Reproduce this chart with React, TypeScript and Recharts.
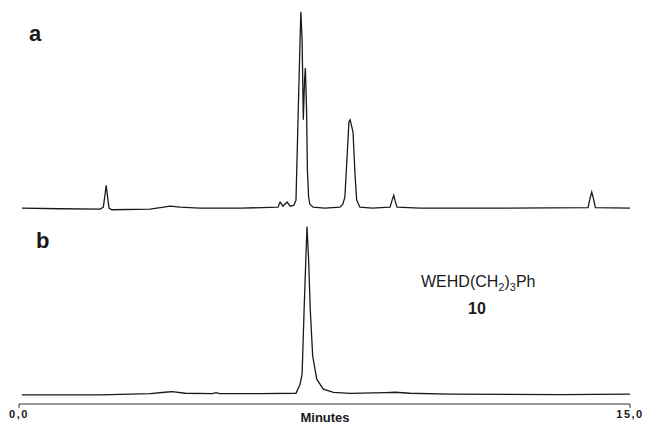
import React from "react";
import { LineChart, Line, XAxis, YAxis } from "recharts";

// trace a: retention time (min) and detector response (a.u.)
const traceATime = [
    0.07, 1.01, 1.99, 2.07, 2.11, 2.14, 2.17, 2.21, 2.28, 3.22, 3.71, 3.95,
    4.44, 5.43, 6.36, 6.41, 6.48, 6.58, 6.66, 6.75, 6.8, 6.85, 6.9, 6.92, 6.95,
    6.98, 7.01, 7.03, 7.06, 7.08, 7.11, 7.14, 7.22, 7.51, 7.88, 7.95, 8.0, 8.05,
    8.1, 8.13, 8.16, 8.2, 8.25, 8.29, 8.37, 8.67, 9.11, 9.16, 9.2, 9.23, 9.28,
    9.85, 11.81, 13.97, 14.02, 14.06, 14.1, 14.15, 15.0,
];
const traceASignal = [
    0, -0.3, -0.5, 0.5, 6.6, 11.7, 6.6, 0, -0.8, -0.5, 1.0, 0.5, 0, 0, 0.5,
    3.1, 1.0, 3.1, 1.0, 1.5, 4.1, 45, 85.7, 100, 85.7, 45, 65, 71.4, 50, 19.4,
    5.6, 2.0, 0.5, 0, 0.5, 2, 5.6, 24.5, 44, 45, 42.3, 38.8, 16.8, 4.1, 0.5, 0,
    0.5, 4.1, 6.6, 4.1, 0.5, 0, 0, 0.3, 5.1, 8.2, 5.1, 0.3, 0,
];

// trace b: compound 10
const traceBTime = [
    0.07, 1.99, 3.22, 3.58, 3.76, 4.08, 4.74, 4.84, 4.93, 5.92, 6.8, 6.9, 6.95,
    7.0, 7.05, 7.07, 7.11, 7.15, 7.21, 7.31, 7.47, 7.72, 8.13, 8.99, 9.23, 9.6,
    10.58, 13.28, 15.0,
];
const traceBSignal = [
    -0.3, -0.3, 0.3, 1.0, 1.3, 0.5, 0.3, 0.8, 0.3, 0.3, 0.5, 5.1, 10.2, 43.4,
    74, 85.7, 68.9, 43.4, 19.5, 7.7, 2.6, 0.9, 0.4, 0.8, 1.0, 0.5, 0, -0.2, 0,
];

const xTicks = [0, 15];
const xTickLabels = ["0,0", "15,0"];

const dataA = traceATime.map((t, i) => ({ t, v: traceASignal[i] }));
const dataB = traceBTime.map((t, i) => ({ t, v: traceBSignal[i] }));

const font = "'Liberation Sans', Arial, sans-serif";
const ink = "#1a1a1a";

export default function App() {
    return (
        <div
            style={{
                position: "absolute",
                left: 0,
                top: 0,
                width: 645,
                height: 427,
                background: "#fff",
                fontFamily: font,
            }}
        >
            <div style={{ position: "absolute", left: 0, top: 0 }}>
                <LineChart
                    width={645}
                    height={220}
                    data={dataA}
                    margin={{ top: 2, right: 15, bottom: 2, left: 19 }}
                >
                    <XAxis type="number" dataKey="t" domain={[0, 15]} hide />
                    <YAxis type="number" domain={[-5, 105]} hide />
                    <Line
                        type="linear"
                        dataKey="v"
                        stroke={ink}
                        strokeWidth={1.3}
                        dot={false}
                        isAnimationActive={false}
                    />
                </LineChart>
            </div>
            <div style={{ position: "absolute", left: 0, top: 216 }}>
                <LineChart
                    width={645}
                    height={211}
                    data={dataB}
                    margin={{ top: 2, right: 15, bottom: 0, left: 19 }}
                >
                    <XAxis
                        type="number"
                        dataKey="t"
                        domain={[0, 15]}
                        ticks={xTicks}
                        tickFormatter={(v) => xTickLabels[xTicks.indexOf(v)]}
                        height={23}
                        tickSize={4}
                        stroke="#333"
                        tick={{
                            fill: ink,
                            fontSize: 11,
                            fontWeight: "bold",
                            fontFamily: font,
                            letterSpacing: 1.5,
                        }}
                    />
                    <YAxis type="number" domain={[-5, 90]} hide />
                    <Line
                        type="linear"
                        dataKey="v"
                        stroke={ink}
                        strokeWidth={1.3}
                        dot={false}
                        isAnimationActive={false}
                    />
                </LineChart>
            </div>
            <svg
                width={645}
                height={427}
                style={{ position: "absolute", left: 0, top: 0, pointerEvents: "none" }}
                fontFamily={font}
            >
                <text x={29} y={41} fontSize={22} fontWeight="bold" fill={ink}>
                    a
                </text>
                <text x={36} y={248} fontSize={22} fontWeight="bold" fill={ink}>
                    b
                </text>
                <text x={421} y={287} fontSize={16} fill={ink}>
                    WEHD(CH
                    <tspan fontSize={11} dy={4}>2</tspan>
                    <tspan dy={-4}>)</tspan>
                    <tspan fontSize={11} dy={4}>3</tspan>
                    <tspan dy={-4}>Ph</tspan>
                </text>
                <text
                    x={477}
                    y={314}
                    fontSize={16}
                    fontWeight="bold"
                    textAnchor="middle"
                    fill={ink}
                >
                    10
                </text>
                <text
                    x={325}
                    y={422}
                    fontSize={13}
                    fontWeight="bold"
                    textAnchor="middle"
                    fill={ink}
                >
                    Minutes
                </text>
            </svg>
        </div>
    );
}
